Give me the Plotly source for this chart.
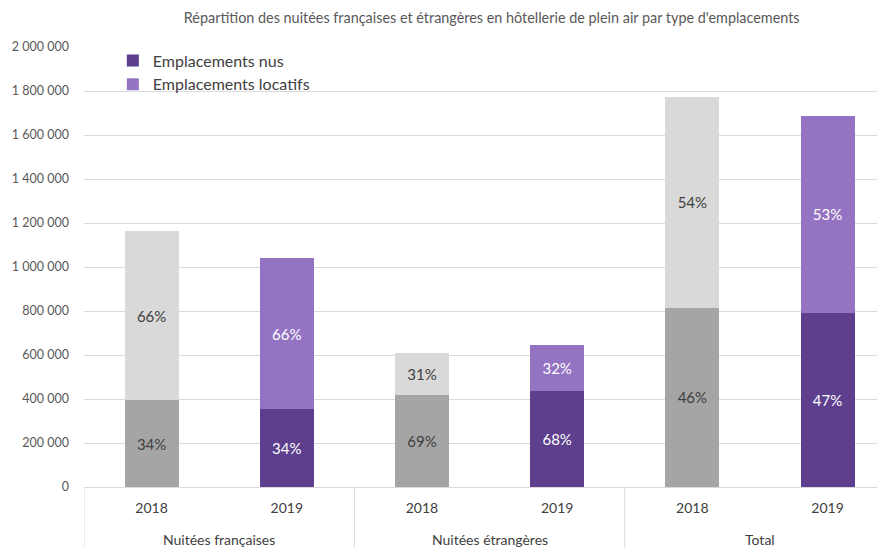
import plotly.graph_objects as go

GROUPS = ["Nuitées françaises", "Nuitées étrangères", "Total"]
YEARS = ["2018", "2019"]

# nuitées by type of pitch, per group, per year
NUS_2018 = [395_000, 420_000, 815_000]
LOCATIFS_2018 = [768_000, 189_000, 957_000]
NUS_2019 = [354_000, 438_000, 792_000]
LOCATIFS_2019 = [687_000, 207_000, 894_000]

Y_TICKS = [0, 200_000, 400_000, 600_000, 800_000, 1_000_000, 1_200_000,
           1_400_000, 1_600_000, 1_800_000, 2_000_000]

FONT = "Lato, 'Open Sans', sans-serif"
TEXT_COLOR = "#595959"
GRID_COLOR = "#D9D9D9"
GREY_DARK = "#A5A5A5"
GREY_LIGHT = "#D9D9D9"
PURPLE_DARK = "#5D3F8D"
PURPLE_LIGHT = "#9474C2"

# slot of each bar on the x axis: group i, year j -> i * len(YEARS) + j
def _slots(year_index):
    return [g * len(YEARS) + year_index for g in range(len(GROUPS))]


def _shares(part, other):
    return [f"{p / (p + o):.0%}" for p, o in zip(part, other)]


def _bar(year_index, values, other, name, color, text_color, legend):
    return go.Bar(
        x=_slots(year_index),
        y=values,
        width=0.4,
        name=name,
        legendgroup=name,
        showlegend=legend,
        marker={"color": color, "line": {"width": 0}},
        text=_shares(values, other),
        textposition="inside",
        insidetextanchor="middle",
        textangle=0,
        constraintext="none",
        textfont={"size": 15, "color": text_color, "family": FONT},
        hoverinfo="skip",
    )


fig = go.Figure()
fig.add_trace(_bar(0, NUS_2018, LOCATIFS_2018, "Emplacements nus", GREY_DARK, "#404040", False))
fig.add_trace(_bar(0, LOCATIFS_2018, NUS_2018, "Emplacements locatifs", GREY_LIGHT, "#404040", False))
fig.add_trace(_bar(1, NUS_2019, LOCATIFS_2019, "Emplacements nus", PURPLE_DARK, "white", True))
fig.add_trace(_bar(1, LOCATIFS_2019, NUS_2019, "Emplacements locatifs", PURPLE_LIGHT, "white", True))

n_slots = len(GROUPS) * len(YEARS)

# group labels under the year labels, and the dividers between groups
for g, group in enumerate(GROUPS):
    fig.add_annotation(
        x=g * len(YEARS) + (len(YEARS) - 1) / 2,
        y=0,
        xref="x",
        yref="paper",
        text=group,
        showarrow=False,
        yanchor="middle",
        yshift=-52,
        font={"size": 14, "color": "#404040"},
    )
    fig.add_shape(
        type="line",
        x0=g * len(YEARS) - 0.5,
        x1=g * len(YEARS) - 0.5,
        y0=0,
        y1=-0.15,
        xref="x",
        yref="paper",
        line={"color": GRID_COLOR, "width": 1},
    )

fig.update_layout(
    width=877,
    height=540,
    barmode="stack",
    separators=", ",
    plot_bgcolor="white",
    paper_bgcolor="white",
    font={"family": FONT, "color": TEXT_COLOR, "size": 13},
    margin={"l": 76, "r": 0, "t": 39, "b": 61},
    title={
        "text": "Répartition des nuitées françaises et étrangères en hôtellerie de plein air par type d'emplacements",
        "x": 0.509,
        "xanchor": "center",
        "xref": "paper",
        "y": 1 - 10 / 540,
        "yanchor": "middle",
        "font": {"size": 14.4, "color": TEXT_COLOR},
    },
    legend={
        "x": 0.036,
        "y": 1.008,
        "xanchor": "left",
        "yanchor": "top",
        "bgcolor": "rgba(0,0,0,0)",
        "font": {"size": 16, "color": "#404040"},
        "traceorder": "normal",
        "tracegroupgap": 0,
        "itemwidth": 30,
    },
)
fig.update_yaxes(
    range=[0, 2_000_000],
    tickvals=Y_TICKS,
    tickformat=",d",
    gridcolor=GRID_COLOR,
    gridwidth=1,
    zeroline=False,
    showline=False,
    ticks="",
    ticklabelstandoff=14,
    tickfont={"size": 12.5, "color": TEXT_COLOR},
)
fig.update_xaxes(
    range=[-0.5, n_slots - 0.575],
    tickvals=list(range(n_slots)),
    ticktext=YEARS * len(GROUPS),
    showline=True,
    linecolor=GRID_COLOR,
    linewidth=1,
    showgrid=False,
    zeroline=False,
    ticks="",
    ticklabelstandoff=8,
    tickfont={"size": 14, "color": "#404040"},
)

fig.write_html("out.html")
